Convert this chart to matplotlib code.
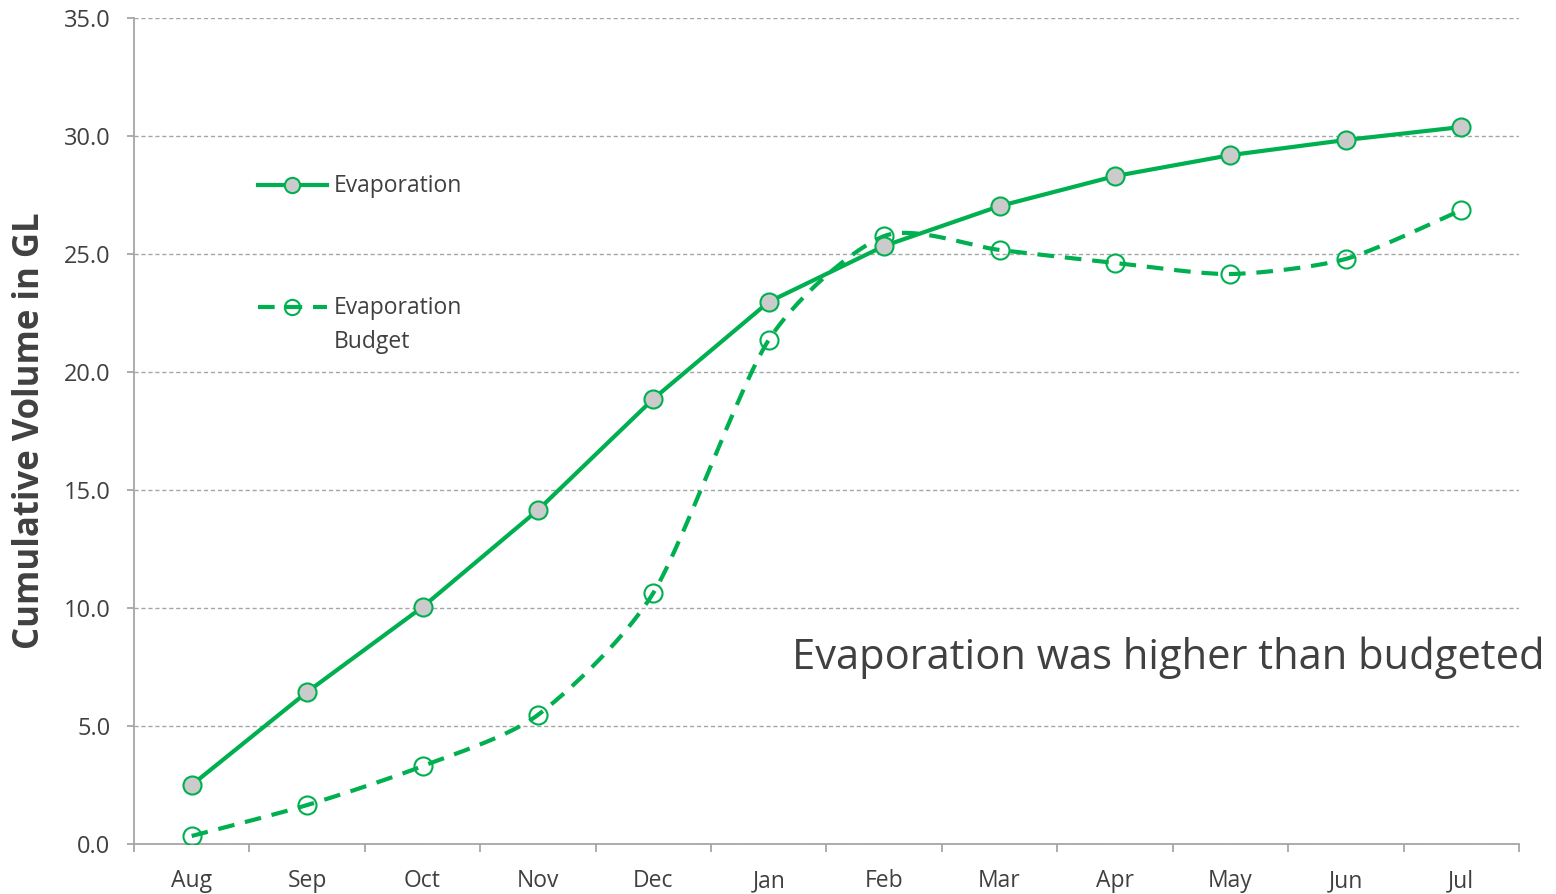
import matplotlib.pyplot as plt
from matplotlib.lines import Line2D
import numpy as np

months = ["Aug", "Sep", "Oct", "Nov", "Dec", "Jan", "Feb", "Mar", "Apr", "May", "Jun", "Jul"]
evaporation = [2.5, 6.44, 10.04, 14.15, 18.86, 22.97, 25.34, 27.03, 28.3, 29.19, 29.83, 30.38]
budget = [0.34, 1.65, 3.3, 5.47, 10.64, 21.36, 25.76, 25.17, 24.62, 24.15, 24.79, 26.86]

green = "#00B050"
grey_fill = "#CBCBCB"
text_col = "#404040"
axis_col = "#A6A6A6"


# Excel-style smoothed line (bezier through the points)
def smooth(x, y, n=30, k=8.0):
    x = np.asarray(x, float)
    y = np.asarray(y, float)
    px = np.concatenate([[x[0]], x, [x[-1]]])
    py = np.concatenate([[y[0]], y, [y[-1]]])
    xs, ys = [], []
    t = np.linspace(0, 1, n)
    for i in range(1, len(px) - 2):
        p0, p1, p2, p3 = [np.array([px[j], py[j]]) for j in (i - 1, i, i + 1, i + 2)]
        c1 = p1 + (p2 - p0) / k
        c2 = p2 - (p3 - p1) / k
        pts = ((1 - t) ** 3)[:, None] * p1 + (3 * (1 - t) ** 2 * t)[:, None] * c1 \
            + (3 * (1 - t) * t ** 2)[:, None] * c2 + (t ** 3)[:, None] * p2
        xs.extend(pts[:, 0])
        ys.extend(pts[:, 1])
    return np.array(xs), np.array(ys)


plt.rcParams['font.family'] = ['Open Sans', 'DejaVu Sans']

fig = plt.figure(figsize=(15.56, 8.94), dpi=100)
ax = fig.add_axes([0.0861, 0.0559, 0.8901, 0.924])

x = np.arange(len(months))
dash = (0, (4, 2.6))

ax.plot(x, evaporation, color=green, lw=3, marker='o', ms=13,
        mfc=grey_fill, mec=green, mew=1.5, zorder=4)

sx, sy = smooth(x, budget)
ax.plot(sx, sy, color=green, lw=3, ls=dash, zorder=3)
ax.plot(x, budget, ls='none', marker='o', ms=13, mfc='none', mec=green, mew=1.5, zorder=3)

ax.set_xlim(-0.5, len(months) - 0.5)
ax.set_ylim(0, 35)
yt = np.arange(0, 35.1, 5)
ax.set_yticks(yt)
ax.set_yticklabels([f"{v:.1f}" for v in yt])
ax.set_xticks(x)
ax.set_xticklabels(months)
ax.set_xticks(np.arange(-0.5, len(months)), minor=True)

ax.yaxis.grid(True, color=axis_col, ls=(0, (3, 2)), lw=1)
ax.set_axisbelow(True)
for s in ["top", "right"]:
    ax.spines[s].set_visible(False)
for s in ["left", "bottom"]:
    ax.spines[s].set_color(axis_col)
    ax.spines[s].set_linewidth(1.3)

ax.tick_params(axis='x', which='major', length=0, pad=18, labelsize=16.5, labelcolor=text_col)
ax.tick_params(axis='x', which='minor', length=6, color=axis_col, width=1.3)
ax.tick_params(axis='y', length=5, color=axis_col, width=1.3, labelsize=17,
               labelcolor=text_col, pad=12)

ax.set_ylabel("Cumulative Volume in GL", fontsize=25, fontweight='bold', color=text_col)
ax.yaxis.set_label_coords(-0.062, 0.5)

# legend drawn by hand so the marker sits on the first text line
def ax_pt(px, py):
    return (px - 134) / 1385, (844 - py) / 826

for py, ls, mfc, lab in [(185, '-', grey_fill, "Evaporation"),
                         (307, dash, 'none', "Evaporation\nBudget")]:
    x0, yy = ax_pt(258, py)
    x1, _ = ax_pt(327, py)
    xm, _ = ax_pt(292, py)
    ax.add_line(Line2D([x0, x1], [yy, yy], transform=ax.transAxes, color=green, lw=3, ls=ls))
    ax.add_line(Line2D([xm], [yy], transform=ax.transAxes, marker='o', ms=11,
                       mfc=mfc, mec=green, mew=1.5))
    tx, ty = ax_pt(334, py - 11)
    ax.text(tx, ty, lab, transform=ax.transAxes, fontsize=16.5, color=text_col,
            ha='left', va='top', linespacing=1.55)

ax.text(11.725, 7.88, "Evaporation was higher than budgeted", fontsize=30,
        color=text_col, ha='right', va='center', clip_on=False)

fig.savefig("out.png", dpi=100)
